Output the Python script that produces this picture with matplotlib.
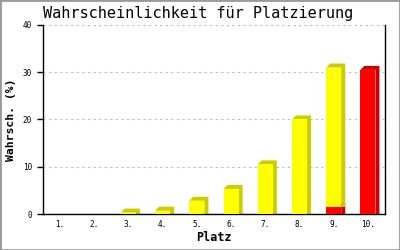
import matplotlib
matplotlib.use("Agg")
import matplotlib.pyplot as plt
import matplotlib.patches as mpatches
import numpy as np

# ── Data ──────────────────────────────────────────────────────────────────────
places = ["1.", "2.", "3.", "4.", "5.", "6.", "7.", "8.", "9.", "10."]
red_vals = [0, 0, 0, 0, 0, 0, 0, 0, 1.5, 30.5]
yellow_vals = [0, 0, 0.3, 0.7, 2.8, 5.3, 10.5, 20.0, 29.5, 0]

FONT = "DejaVu Sans Mono"
DEPTH_PX = 4          # 3D offset in pixels
BAR_W = 0.44
AX_RECT = [0.1075, 0.144, 0.855, 0.756]
YMAX = 40

fig = plt.figure(figsize=(4, 2.5), dpi=100)
ax = fig.add_axes(AX_RECT)

x = np.arange(len(places))
red = np.array(red_vals)
yellow = np.array(yellow_vals)

# depth of the shaded side/top, converted from pixels to data units
dx = DEPTH_PX / (AX_RECT[2] * 400 / len(places))
dy = DEPTH_PX / (AX_RECT[3] * 250 / YMAX)


def bar3d(xs, heights, bottoms, front, side):
    for xi, h, b in zip(xs, heights, bottoms):
        if h <= 0:
            continue
        L, R, t = xi - BAR_W / 2, xi + BAR_W / 2, b + h
        ax.add_patch(mpatches.Polygon(
            [(L, t), (L + dx, t + dy), (R + dx, t + dy), (R + dx, b), (R, b), (R, t)],
            closed=True, facecolor=side, edgecolor="none", zorder=2))
    m = heights > 0
    ax.bar(xs[m], heights[m], BAR_W, bottom=bottoms[m], color=front,
           zorder=3, linewidth=0)


bar3d(x, red, np.zeros_like(red), "#ff0000", "#cc0000")
bar3d(x, yellow, red, "#ffff00", "#cccc00")

ax.set_xlim(-0.5, len(places) - 0.5)
ax.set_ylim(0, YMAX)
ax.set_yticks([0, 10, 20, 30, 40])
ax.set_xticks(x)
ax.set_xticklabels(places, family=FONT, fontsize=5.5)
for lbl in ax.get_yticklabels():
    lbl.set_family(FONT)
    lbl.set_fontsize(5.5)
ax.tick_params(axis="x", length=0, pad=4)
ax.tick_params(axis="y", length=4, width=1, pad=4)

ax.spines["top"].set_visible(False)
for s in ["left", "bottom", "right"]:
    ax.spines[s].set_linewidth(1)
ax.yaxis.grid(True, color="#bbbbbb", linestyle=(0, (2, 3)), linewidth=0.8)
ax.set_axisbelow(True)

ax.set_xlabel("Platz", family=FONT, fontsize=8.5, fontweight="bold", labelpad=2)
ax.set_ylabel("Wahrsch. (%)", family=FONT, fontsize=8.2, fontweight="bold", labelpad=5)
fig.text(0.495, 0.945, "Wahrscheinlichkeit für Platzierung", family=FONT,
         fontsize=11, ha="center", va="center")

fig.patches.append(mpatches.Rectangle((0, 0), 1, 1, transform=fig.transFigure,
                                      fill=False, edgecolor="#999999", linewidth=2))

fig.savefig("out.png", dpi=100)
